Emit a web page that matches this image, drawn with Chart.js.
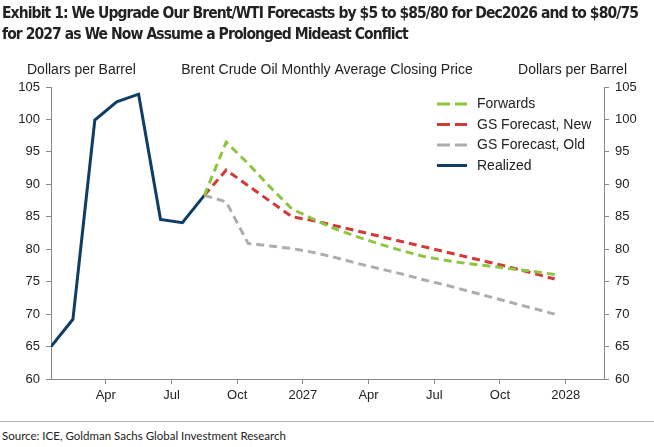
<!DOCTYPE html>
<html>
<head>
<meta charset="utf-8">
<script src="https://cdn.jsdelivr.net/npm/chart.js@4.4.1/dist/chart.umd.min.js"></script>
<style>
  html, body { margin: 0; padding: 0; background: #fff; }
  body { width: 654px; height: 447px; position: relative; overflow: hidden; }
  #wrap { position: absolute; left: 0; top: 0; width: 654px; height: 410px; }
  #title {
    position: absolute; left: 2px; top: 3px;
    font-family: 'Liberation Sans Narrow', 'DejaVu Sans Condensed', sans-serif;
    font-weight: bold; font-size: 15.5px; line-height: 21px; color: #222;
    white-space: nowrap;
  }
  #title span { display: inline-block; }
  #rule { position: absolute; left: 0; top: 421px; width: 654px; border-top: 1px solid #b8b8b8; }
  #source {
    position: absolute; left: 2px; top: 429px;
    font-family: Lato, 'Open Sans', sans-serif; font-size: 11.5px; color: #222;
  }
</style>
</head>
<body>
<div id="wrap"><canvas id="chart" width="654" height="410"></canvas></div>
<div id="title"><span id="t1">Exhibit 1: We Upgrade Our Brent/WTI Forecasts by $5 to $85/80 for Dec2026 and to $80/75</span><br><span id="t2">for 2027 as We Now Assume a Prolonged Mideast Conflict</span></div>
<div id="rule"></div>
<div id="source">Source: ICE, Goldman Sachs Global Investment Research</div>
<script>
// Mois (moyennes mensuelles), Jan 2026 -> Dec 2027
const months = [
    'Jan 2026', 'Feb 2026', 'Mar 2026', 'Apr 2026', 'May 2026', 'Jun 2026',
    'Jul 2026', 'Aug 2026', 'Sep 2026', 'Oct 2026', 'Nov 2026', 'Dec 2026',
    'Jan 2027', 'Feb 2027', 'Mar 2027', 'Apr 2027', 'May 2027', 'Jun 2027',
    'Jul 2027', 'Aug 2027', 'Sep 2027', 'Oct 2027', 'Nov 2027', 'Dec 2027'
];

const realized = [65.0, 69.2, 99.9, 102.7, 103.9, 84.6, 84.1, 88.3,
    null, null, null, null, null, null, null, null, null, null, null, null, null, null, null, null];

const forwards = [null, null, null, null, null, null, null,
    88.3, 96.5, 93.2, 89.6, 86.2, 84.6, 83.1, 81.9, 80.8, 79.8, 78.9, 78.3, 77.8, 77.4, 77.0, 76.6, 76.1];

const gsNew = [null, null, null, null, null, null, null,
    88.3, 92.2, 89.8, 87.4, 85.0, 84.4, 83.6, 82.8, 82.0, 81.2, 80.4, 79.6, 78.8, 78.0, 77.2, 76.3, 75.4];

const gsOld = [null, null, null, null, null, null, null,
    88.3, 87.3, 80.9, 80.5, 80.1, 79.5, 78.7, 77.8, 77.0, 76.2, 75.3, 74.5, 73.6, 72.7, 71.8, 70.9, 70.0];

// Graduations de l'axe X : début de chaque trimestre (mois compté depuis Jan 2026)
const tickMonthStarts = [3, 6, 9, 12, 15, 18, 21, 24];
const tickLabels = ['Apr', 'Jul', 'Oct', '2027', 'Apr', 'Jul', 'Oct', '2028'];

const FONT = '"Liberation Sans", Arial, sans-serif';
const TEXT = '#222';
const AXIS = '#8a8a8a';

// Resserrer le titre pour qu'il tienne sur la largeur du graphique
(function fitTitle() {
    const t1 = document.getElementById('t1');
    const chars = t1.textContent.length;
    const w = t1.getBoundingClientRect().width;
    const spacing = (636 - w) / chars;
    document.getElementById('title').style.letterSpacing = spacing.toFixed(3) + 'px';
})();

function points(series) {
    return months.map((m, i) => ({ x: i, y: series[i] }));
}

// Légende et titres d'axes dessinés sur le canvas
const legendPlugin = {
    id: 'legendBox',
    afterDatasetsDraw(chart) {
        const c = chart.ctx;
        c.save();
        c.font = '14px ' + FONT;
        c.textBaseline = 'middle';
        c.textAlign = 'left';
        chart.data.datasets.forEach((ds, i) => {
            const y = 104 + i * 20.5;
            c.strokeStyle = ds.borderColor;
            c.lineWidth = ds.borderWidth;
            c.setLineDash(ds.borderDash ? [13, 5] : []);
            c.beginPath();
            c.moveTo(437, y);
            c.lineTo(467, y);
            c.stroke();
            c.setLineDash([]);
            c.fillStyle = TEXT;
            c.fillText(ds.label, 477, y + 0.5);
        });

        c.textBaseline = 'alphabetic';
        c.fillText('Dollars per Barrel', 27, 74);
        c.textAlign = 'center';
        c.fillText('Brent Crude Oil Monthly Average Closing Price', 327, 74);
        c.textAlign = 'right';
        c.fillText('Dollars per Barrel', 627, 74);
        c.restore();
    }
};

const yAxis = (position, width) => ({
    position: position,
    min: 60,
    max: 105,
    ticks: { stepSize: 5, padding: 6, color: TEXT, font: { family: FONT, size: 13 } },
    grid: { drawOnChartArea: false, tickLength: 5, color: AXIS },
    border: { color: AXIS, width: 1 },
    afterFit: s => { s.width = width; }
});

new Chart(document.getElementById('chart'), {
    type: 'line',
    data: {
        datasets: [
            { label: 'Forwards', data: points(forwards), borderColor: '#8cc63f', borderWidth: 3, borderDash: [8, 5] },
            { label: 'GS Forecast, New', data: points(gsNew), borderColor: '#d23a3a', borderWidth: 3, borderDash: [8, 5] },
            { label: 'GS Forecast, Old', data: points(gsOld), borderColor: '#adadad', borderWidth: 3, borderDash: [8, 5] },
            { label: 'Realized', data: points(realized), borderColor: '#0f3d66', borderWidth: 3 }
        ]
    },
    options: {
        responsive: false,
        animation: false,
        layout: { padding: { top: 87, left: 0, right: 0, bottom: 0 } },
        plugins: { legend: { display: false }, tooltip: { enabled: false } },
        elements: { point: { radius: 0 }, line: { tension: 0, borderCapStyle: 'butt' } },
        scales: {
            x: {
                type: 'linear',
                min: 0,
                max: 25.25,
                afterBuildTicks: s => { s.ticks = tickMonthStarts.map(m => ({ value: m - 0.5 })); },
                ticks: {
                    autoSkip: false, maxRotation: 0, padding: 4, color: TEXT,
                    font: { family: FONT, size: 13 },
                    callback: (v, i) => tickLabels[i]
                },
                grid: { drawOnChartArea: false, tickLength: 5, color: AXIS },
                border: { color: AXIS, width: 1 },
                afterFit: s => { s.height = 31; }
            },
            y: yAxis('left', 51),
            y2: yAxis('right', 50)
        }
    },
    plugins: [legendPlugin]
});
</script>
</body>
</html>
